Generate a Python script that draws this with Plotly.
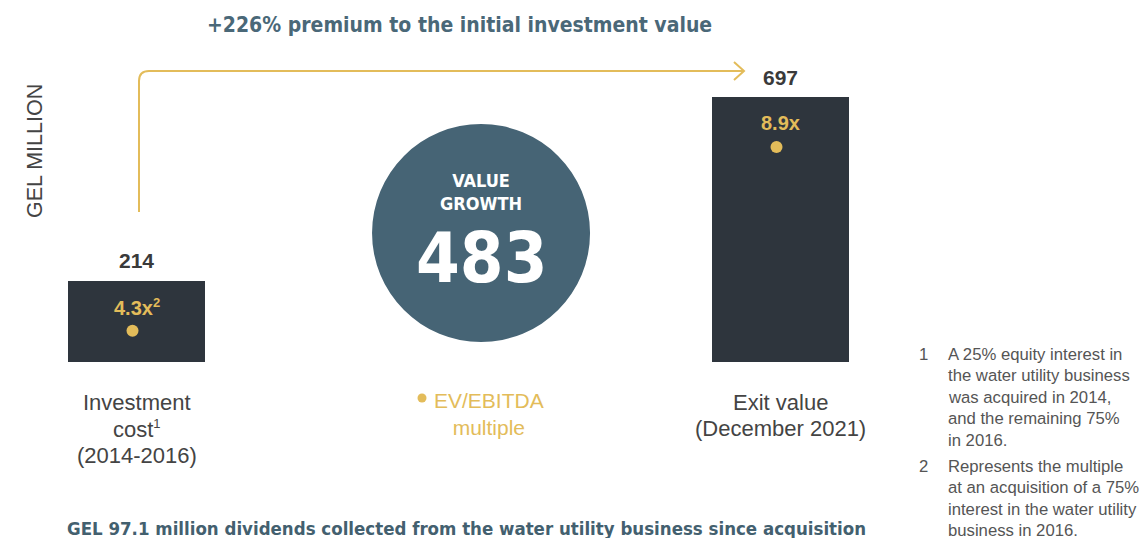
import plotly.graph_objects as go

# ---------------- data ----------------
categories = ["Investment cost", "Value growth", "Exit value"]
bar_categories = ["Investment cost", "Exit value"]
bar_values = [214, 697]
bar_value_labels = ["214", "697"]
multiple_labels = ["4.3x<sup>2</sup>", "8.9x"]
category_labels = [["Investment", "cost<sup>1</sup>", "(2014-2016)"], ["Exit value", "(December 2021)"]]
value_growth = 483
title_text = "+226% premium to the initial investment value"
bottom_text = "GEL 97.1 million dividends collected from the water utility business since acquisition"
axis_title = "GEL MILLION"
footnote_numbers = ["1", "2"]
footnote_lines = [
    ["A 25% equity interest in", "the water utility business", "was acquired in 2014,",
     "and the remaining 75%", "in 2016."],
    ["Represents the multiple", "at an acquisition of a 75%", "interest in the water utility",
     "business in 2016."],
]

# ---------------- styling ----------------
W, H = 1145, 538
BAR = "#2E353D"
SLATE = "#466475"
GOLD = "#E3BC5A"
DARK = "#3A3A3A"
TXT = "#444444"
REG = "Liberation Sans, Arial, sans-serif"
NARROW = "DejaVu Sans Condensed, Liberation Sans Narrow, sans-serif"


def px(x):
    return x / W


def py(y):
    return 1 - y / H


def small_sup(t):
    return t.replace("<sup>", "<sup><span style='font-size:13px'>").replace("</sup>", "</span></sup>")


scale = 265 / 697  # px per unit
y_top = 362 / scale
y_bot = y_top - H / scale
x_unit = 322
x0 = -136.5 / x_unit
x1 = x0 + W / x_unit

fig = go.Figure()
fig.add_trace(go.Bar(
    x=bar_categories, y=bar_values, width=137 / x_unit,
    marker=dict(color=BAR, line=dict(width=0)), hoverinfo="skip", showlegend=False,
))

annotations = []
shapes = []

for cat, v, lab, mult in zip(bar_categories, bar_values, bar_value_labels, multiple_labels):
    annotations.append(dict(x=cat, y=v, xref="x", yref="y", text=f"<b>{lab}</b>",
                            showarrow=False, yanchor="middle", yshift=20,
                            font=dict(family=REG, size=21, color=DARK)))
    annotations.append(dict(x=cat, y=v, xref="x", yref="y", text=f"<b>{small_sup(mult)}</b>",
                            showarrow=False, yanchor="middle", yshift=-26, xshift=0,
                            font=dict(family=REG, size=20, color=GOLD)))
    shapes.append(dict(type="circle", xref="x", yref="y", xsizemode="pixel", ysizemode="pixel",
                       xanchor=cat, yanchor=v, x0=-10, x1=2, y0=-56, y1=-44,
                       fillcolor=GOLD, line=dict(width=0)))

# category labels (one annotation per line)
for cat, lines in zip(bar_categories, category_labels):
    for i, ln in enumerate(lines):
        annotations.append(dict(x=cat, y=py(402 + i * 26.5), xref="x", yref="paper",
                                text=small_sup(ln), showarrow=False, yanchor="middle",
                                font=dict(family=REG, size=22, color=TXT)))

# value growth circle
shapes.append(dict(type="circle", xref="x", yref="paper", xsizemode="pixel", ysizemode="pixel",
                   xanchor=1.07, yanchor=py(233), x0=-109, x1=109, y0=-109, y1=109,
                   fillcolor=SLATE, line=dict(width=0), layer="below"))
annotations.append(dict(x=1.07, y=py(192), xref="x", yref="paper", text="<b>VALUE<br>GROWTH</b>",
                        showarrow=False, yanchor="middle",
                        font=dict(family=NARROW, size=18, color="white")))
annotations.append(dict(x=1.07, y=py(258), xref="x", yref="paper", text=f"<b>{value_growth}</b>",
                        showarrow=False, yanchor="middle",
                        font=dict(family=NARROW, size=70, color="white")))

# EV/EBITDA legend
shapes.append(dict(type="circle", xref="paper", yref="paper", xsizemode="pixel", ysizemode="pixel",
                   xanchor=px(422), yanchor=py(398), x0=-4.5, x1=4.5, y0=-4.5, y1=4.5,
                   fillcolor=GOLD, line=dict(width=0)))
annotations.append(dict(x=px(489), y=py(414), xref="paper", yref="paper",
                        text="EV/EBITDA<br>multiple", showarrow=False, yanchor="middle",
                        font=dict(family=REG, size=21, color=GOLD)))

# title + bottom text
annotations.append(dict(x=px(459), y=py(25), xref="paper", yref="paper", text=f"<b>{title_text}</b>",
                        showarrow=False, yanchor="middle",
                        font=dict(family=NARROW, size=21, color="#4A6878")))
annotations.append(dict(x=px(467), y=py(528), xref="paper", yref="paper", text=f"<b>{bottom_text}</b>",
                        showarrow=False, yanchor="middle",
                        font=dict(family=NARROW, size=18.5, color="#43606F")))

# axis title
annotations.append(dict(x=px(35), y=py(151), xref="paper", yref="paper", text=axis_title,
                        textangle=-90, showarrow=False, xanchor="center", yanchor="middle",
                        font=dict(family=REG, size=21.5, color="#444444")))

# footnotes
line_h = 21.6
y_cur = 354
for num, lines in zip(footnote_numbers, footnote_lines):
    annotations.append(dict(x=px(917), y=py(y_cur), xref="paper", yref="paper", text=num,
                            showarrow=False, xanchor="left", yanchor="middle",
                            font=dict(family=REG, size=16.7, color="#555555")))
    for ln in lines:
        annotations.append(dict(x=px(946), y=py(y_cur), xref="paper", yref="paper", text=ln,
                                showarrow=False, xanchor="left", yanchor="middle",
                                font=dict(family=REG, size=16.7, color="#555555")))
        y_cur += line_h
    y_cur += 4

# arrow
r = 10
arrow_path = (f"M {px(139)},{py(212)} L {px(139)},{py(71 + r)} "
              f"Q {px(139)},{py(71)} {px(139 + r)},{py(71)} L {px(743)},{py(71)}")
shapes.append(dict(type="path", xref="paper", yref="paper", path=arrow_path,
                   line=dict(color=GOLD, width=2)))
head_path = f"M {px(734)},{py(62)} L {px(744)},{py(71)} L {px(734)},{py(80)}"
shapes.append(dict(type="path", xref="paper", yref="paper", path=head_path,
                   line=dict(color=GOLD, width=2)))

fig.update_layout(
    width=W, height=H,
    margin=dict(l=0, r=0, t=0, b=0),
    paper_bgcolor="white", plot_bgcolor="white",
    xaxis=dict(type="category", categoryorder="array", categoryarray=categories,
               range=[x0, x1], visible=False, fixedrange=True),
    yaxis=dict(range=[y_bot, y_top], visible=False, fixedrange=True),
    annotations=annotations, shapes=shapes, bargap=0,
)

fig.write_html("out.html", config={"displayModeBar": False},
               post_script="document.body.style.margin='0px';document.body.style.overflow='hidden';")
